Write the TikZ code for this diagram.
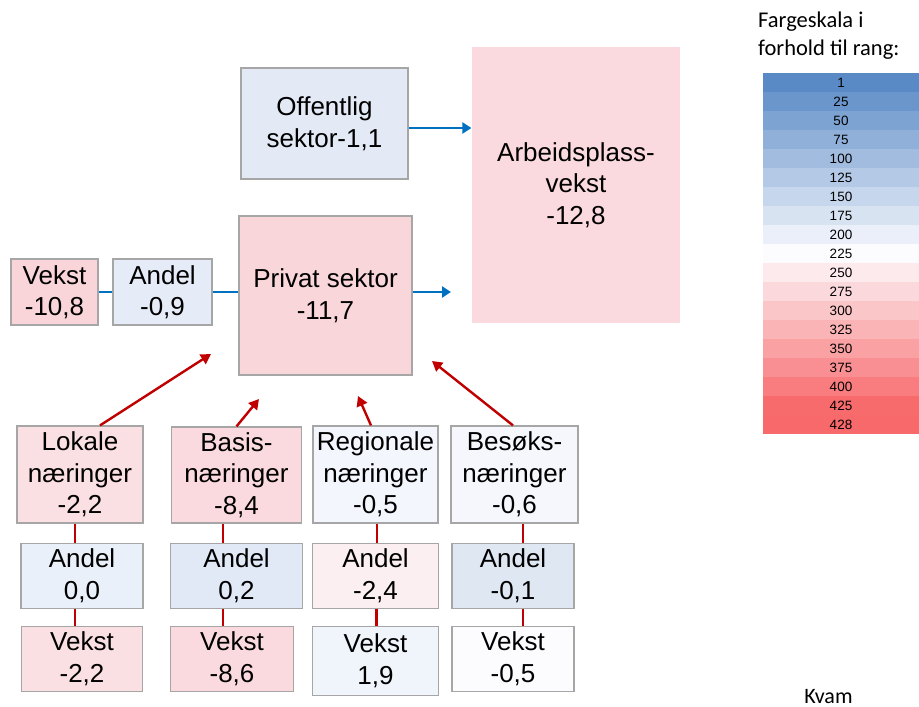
\documentclass[tikz,border=0pt]{standalone}
\usepackage{fontspec}
\setmainfont{Liberation Sans}
\newfontfamily\calibri{Carlito}
\usetikzlibrary{positioning,arrows.meta}

\definecolor{boxgray}{HTML}{A6A6A6}
\definecolor{arrowblue}{HTML}{0070C0}
\definecolor{arrowred}{HTML}{C00000}
\definecolor{scaleblue}{HTML}{5A8AC6}
\definecolor{scalewhite}{HTML}{FCFCFF}
\definecolor{scalered}{HTML}{F8696B}

\tikzset{
  box/.style={draw=boxgray, line width=1.2pt, inner sep=1pt, align=center,
    font=\fontsize{26}{31.5}\selectfont},
  bluearrow/.style={draw=arrowblue, line width=2.3pt, -{Triangle[length=9pt,width=11pt]}},
  blueline/.style={draw=arrowblue, line width=2.3pt},
  redarrow/.style={draw=arrowred, line width=2.4pt, -{Triangle[length=10pt,width=11pt]}},
  redline/.style={draw=arrowred, line width=2.4pt},
  scalecell/.style={minimum width=156pt, minimum height=19pt, inner sep=0pt,
    font=\fontsize{13.5}{16}\selectfont}
}

\begin{document}
\begin{tikzpicture}[x=1pt,y=-1pt]
  \useasboundingbox (0,0) rectangle (919,707);

  % top part
  \node [box,fill={rgb,255:red,227;green,234;blue,246},minimum width=167pt,minimum height=111pt]
    (offentlig) at (324.5,123.5) {Offentlig\\sektor-1,1};
  \node [box,draw=none,fill={rgb,255:red,250;green,218;blue,222},minimum width=208pt,minimum height=276pt]
    (arbeid) at (576,185) {Arbeidsplass-\\vekst\\-12,8};
  \node [box,fill={rgb,255:red,249;green,214;blue,218},minimum width=173pt,minimum height=159pt]
    (privat) at (325.5,295.5) {Privat sektor\\-11,7};
  \node [box,fill={rgb,255:red,249;green,213;blue,217},minimum width=87pt,minimum height=66pt]
    (vekst) at (54.5,292) {Vekst\\-10,8};
  \node [box,fill={rgb,255:red,230;green,236;blue,247},minimum width=99pt,minimum height=66pt]
    (andel) at (162.5,292) {Andel\\-0,9};

  % naeringer
  \node [box,fill={rgb,255:red,251;green,224;blue,227},minimum width=126pt,minimum height=97pt]
    (lok) at (80,474.5) {Lokale\\næringer\\-2,2};
  \node [box,fill={rgb,255:red,250;green,218;blue,222},minimum width=130pt,minimum height=96pt]
    (basis) at (236.5,475) {Basis-\\næringer\\-8,4};
  \node [box,fill={rgb,255:red,243;green,246;blue,253},minimum width=125pt,minimum height=97pt]
    (regional) at (375.5,474.5) {Regionale\\næringer\\-0,5};
  \node [box,fill={rgb,255:red,245;green,247;blue,253},minimum width=127pt,minimum height=97pt]
    (besok) at (514.5,474.5) {Besøks-\\næringer\\-0,6};

  \node [box,fill={rgb,255:red,234;green,240;blue,249},minimum width=122pt,minimum height=65pt,
    below=19pt of lok,xshift=2pt] (lokA) {Andel\\0,0};
  \node [box,fill={rgb,255:red,226;green,233;blue,246},minimum width=132pt,minimum height=65pt,
    below=19pt of basis] (basisA) {Andel\\0,2};
  \node [box,fill={rgb,255:red,251;green,239;blue,242},minimum width=126pt,minimum height=65pt,
    below=19pt of regional] (regionalA) {Andel\\-2,4};
  \node [box,fill={rgb,255:red,223;green,231;blue,243},minimum width=122pt,minimum height=65pt,
    below=19pt of besok,xshift=-1.5pt] (besokA) {Andel\\-0,1};

  \node [box,fill={rgb,255:red,251;green,224;blue,227},minimum width=121pt,minimum height=65pt,
    below=17pt of lokA] (lokV) {Vekst\\-2,2};
  \node [box,fill={rgb,255:red,250;green,218;blue,222},minimum width=123pt,minimum height=65pt,
    below=17pt of basisA,xshift=-4.5pt] (basisV) {Vekst\\-8,6};
  \node [box,fill={rgb,255:red,240;green,244;blue,251},minimum width=126pt,minimum height=69pt,
    below=17pt of regionalA] (regionalV) {Vekst\\1,9};
  \node [box,fill={rgb,255:red,252;green,252;blue,255},minimum width=122pt,minimum height=65pt,
    below=17pt of besokA] (besokV) {Vekst\\-0,5};

  % free arrow ends
  \coordinate (privatTip) at (451,292);
  \coordinate (lokTip) at (211,354);
  \coordinate (basisTip) at (259,399);
  \coordinate (regionalTip) at (358,396);
  \coordinate (besokTip) at (432,361);

  \draw[bluearrow] ([yshift=-4.5pt]offentlig.east) -- ([yshift=-4.5pt]offentlig.east -| arbeid.west);
  \draw[blueline] (vekst) -- (andel);
  \draw[blueline] (andel.east) -- (andel.east -| privat.west);
  \draw[bluearrow] (andel.east -| privat.east) -- (privatTip);

  \draw[redarrow] ([xshift=20pt]lok.north) -- (lokTip);
  \draw[redarrow] (basis.north) -- (basisTip);
  \draw[redarrow] ([xshift=-4.5pt]regional.north) -- (regionalTip);
  \draw[redarrow] ([xshift=-1.5pt]besok.north) -- (besokTip);

  \draw[redline] ([xshift=-5pt]lok.south) -- ([xshift=-5pt]lok.south |- lokA.north);
  \draw[redline] ([xshift=-7pt]lokA.south) -- ([xshift=-7pt]lokA.south |- lokV.north);
  \draw[redline] ([xshift=-13.5pt]basis.south) -- ([xshift=-13.5pt]basis.south |- basisA.north);
  \draw[redline] ([xshift=-13.5pt]basisA.south) -- ([xshift=-13.5pt]basisA.south |- basisV.north);
  \draw[redline] ([xshift=1.5pt]regional.south) -- ([xshift=1.5pt]regional.south |- regionalA.north);
  \draw[redline] ([xshift=1pt]regionalA.south) -- ([xshift=1pt]regionalA.south |- regionalV.north);
  \draw[redline] ([xshift=8.5pt]besok.south) -- ([xshift=8.5pt]besok.south |- besokA.north);
  \draw[redline] ([xshift=10pt]besokA.south) -- ([xshift=10pt]besokA.south |- besokV.north);

  % colour scale
  \node [anchor=north west,inner sep=0pt,align=left,font=\calibri\fontsize{22.5}{28}\selectfont]
    (scaletitle) at (758,11.5) {Fargeskala i\\forhold til rang:};
  \foreach \v [count=\i from 0] in {1,25,50,75,100,125,150,175,200,225,250,275,300,325,350,375,400,425,428} {
    \ifnum\v<225
      \pgfmathsetmacro\p{(\v-1)/224*100}
      \colorlet{cellcol}{scalewhite!\p!scaleblue}
    \else
      \pgfmathsetmacro\p{(\v-225)/203*100}
      \colorlet{cellcol}{scalered!\p!scalewhite}
    \fi
    \node [scalecell,fill=cellcol] (s\i) at (841,82.5+19*\i) {\v};
  }

  \node [anchor=base,inner sep=0pt,font=\calibri\fontsize{22}{28}\selectfont] (kvam) at (828.5,703) {Kvam};
\end{tikzpicture}
\end{document}
